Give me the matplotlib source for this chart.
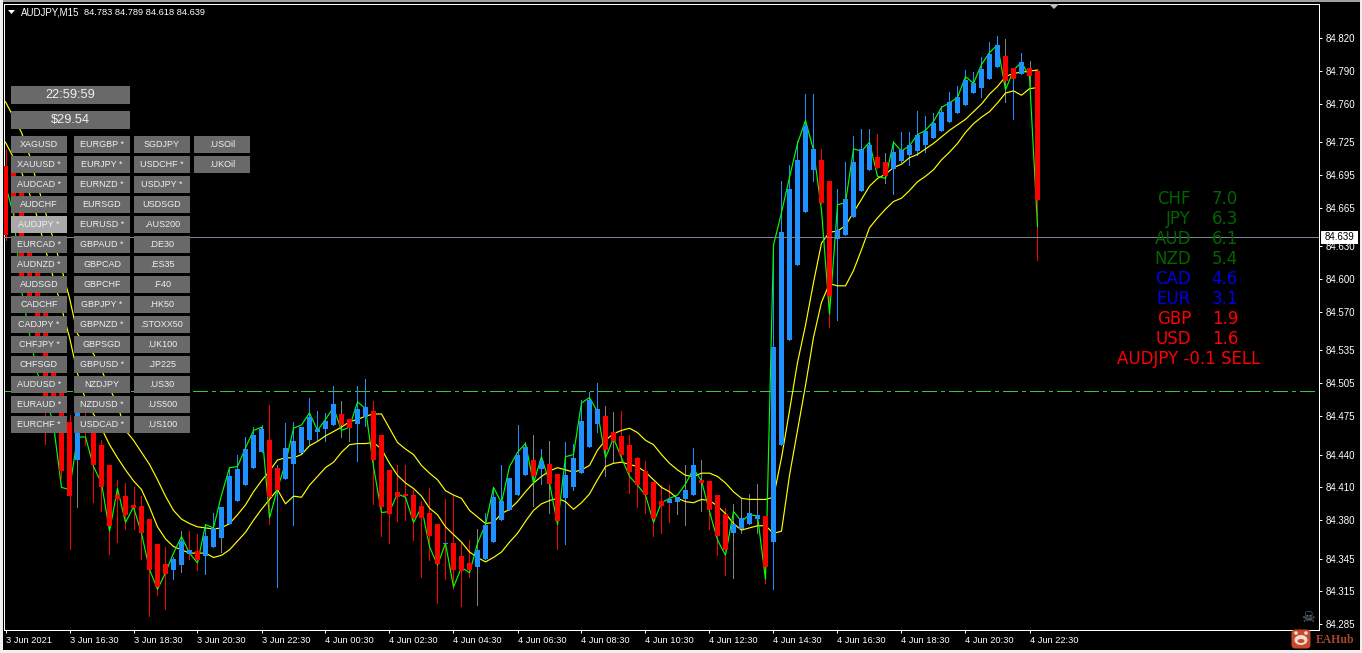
import numpy as np
from matplotlib import pyplot as plt
from matplotlib.patches import Rectangle, FancyBboxPatch, Polygon, Circle, Ellipse

# all prices are stored as points above 84.000 (1 point = 0.001)
open_pts = [703, 700, 682, 627, 607, 572, 517, 497, 470, 435,
            474, 462, 449, 430, 403, 402, 394, 393, 381, 358,
            340, 335, 339, 349, 352, 347, 356, 364, 377, 398,
            412, 428, 442, 453, 428, 418, 431, 441, 453, 461,
            463, 467, 477, 472, 468, 474, 480, 458, 426, 406,
            404, 403, 393, 387, 377, 358, 359, 347, 341, 337,
            345, 360, 380, 389, 403, 421, 435, 427, 431, 422,
            400, 410, 423, 447, 468, 475, 461, 457, 449, 437,
            425, 415, 398, 396, 397, 399, 403, 417, 416, 403,
            386, 368, 372, 377, 381, 384, 360, 449, 545, 613,
            661, 700, 709, 690, 637, 640, 657, 681, 700, 712,
            707, 701, 708, 713, 717, 723, 729, 735, 744, 752,
            759, 770, 775, 783, 794, 804, 793, 787, 793, 790]
close_pts = [640, 675, 603, 583, 548, 493, 490, 425, 402, 479,
             462, 430, 410, 375, 399, 385, 391, 368, 335, 319,
             331, 345, 361, 353, 344, 366, 373, 392, 420, 427,
             445, 458, 463, 401, 408, 446, 452, 465, 474, 463,
             471, 486, 467, 464, 482, 483, 435, 392, 386, 401,
             402, 382, 382, 366, 340, 359, 335, 334, 335, 353,
             376, 401, 398, 419, 440, 447, 420, 434, 413, 379,
             421, 437, 471, 490, 482, 444, 452, 440, 424, 412,
             403, 381, 393, 399, 401, 408, 430, 414, 389, 366,
             353, 377, 382, 387, 385, 337, 538, 643, 682, 709,
             740, 719, 670, 585, 645, 673, 707, 719, 723, 702,
             694, 716, 718, 723, 732, 735, 743, 753, 762, 766,
             782, 779, 792, 806, 814, 781, 783, 798, 786, 672]
high_pts = [718, 709, 691, 636, 616, 581, 526, 504, 476, 485,
            485, 470, 453, 430, 417, 414, 410, 402, 381, 358,
            356, 346, 370, 370, 367, 377, 387, 392, 428, 440,
            456, 465, 467, 485, 430, 469, 470, 465, 492, 480,
            478, 503, 489, 472, 503, 509, 489, 458, 426, 430,
            430, 408, 398, 409, 377, 399, 402, 359, 362, 372,
            387, 409, 430, 419, 467, 451, 458, 445, 452, 422,
            451, 450, 490, 497, 505, 484, 479, 480, 458, 438,
            434, 415, 412, 412, 401, 430, 446, 435, 416, 403,
            391, 395, 399, 404, 413, 384, 631, 690, 704, 726,
            769, 769, 719, 690, 682, 707, 731, 737, 737, 733,
            715, 726, 734, 734, 754, 749, 752, 758, 771, 776,
            791, 789, 803, 817, 822, 819, 793, 807, 799, 790]
low_pts = [636, 645, 595, 577, 540, 450, 481, 419, 354, 392,
           449, 397, 388, 349, 360, 372, 372, 345, 293, 312,
           299, 326, 333, 345, 335, 331, 356, 351, 377, 398,
           412, 428, 442, 377, 319, 418, 376, 441, 450, 453,
           452, 467, 456, 452, 434, 466, 395, 366, 359, 379,
           380, 362, 328, 344, 304, 326, 317, 302, 328, 303,
           345, 360, 380, 389, 403, 421, 393, 413, 387, 354,
           358, 408, 423, 447, 461, 420, 432, 434, 405, 392,
           387, 366, 368, 378, 386, 376, 403, 388, 372, 348,
           330, 327, 368, 377, 368, 323, 317, 449, 545, 613,
           661, 690, 670, 556, 563, 640, 657, 681, 700, 702,
           688, 678, 707, 704, 713, 716, 729, 735, 744, 752,
           759, 770, 766, 783, 794, 762, 746, 787, 776, 618]
fast_pts = [686, 659, 590, 550, 514, 495, 467, 410, 408, 456,
            456, 429, 414, 370, 409, 378, 392, 368, 335, 317,
            332, 350, 365, 350, 341, 376, 373, 403, 428, 429,
            446, 462, 465, 382, 409, 432, 464, 467, 478, 462,
            472, 483, 462, 465, 488, 482, 429, 387, 388, 404,
            401, 378, 392, 356, 339, 359, 319, 337, 332, 359,
            376, 410, 396, 429, 442, 450, 414, 438, 414, 376,
            438, 440, 487, 492, 479, 437, 455, 437, 420, 412,
            403, 378, 396, 400, 403, 413, 427, 416, 388, 362,
            348, 388, 379, 385, 384, 326, 631, 661, 693, 724,
            745, 718, 663, 568, 668, 670, 719, 717, 725, 694,
            692, 725, 717, 722, 732, 736, 744, 757, 761, 766,
            785, 779, 796, 807, 814, 773, 791, 798, 785, 648]
ma_high_pts = [762, 748, 734, 713, 686, 661, 636, 610, 583, 550,
               540, 532, 517, 501, 485, 462, 453, 442, 431, 417,
               402, 389, 381, 377, 374, 373, 372, 373, 377, 385,
               394, 406, 416, 425, 435, 437, 437, 440, 448, 452,
               457, 461, 465, 470, 472, 475, 477, 477, 464, 451,
               445, 440, 430, 423, 417, 407, 403, 400, 389, 383,
               377, 378, 386, 390, 397, 406, 414, 420, 425, 428,
               426, 424, 426, 430, 444, 453, 459, 462, 464, 460,
               453, 449, 440, 432, 426, 421, 420, 423, 423, 420,
               414, 406, 400, 399, 399, 399, 401, 437, 480, 524,
               558, 597, 633, 643, 644, 649, 661, 673, 685, 692,
               696, 702, 705, 711, 714, 719, 724, 730, 736, 741,
               746, 753, 760, 769, 776, 785, 788, 789, 790, 791]
ma_low_pts = [725, 711, 698, 678, 656, 627, 601, 574, 547, 514,
              490, 477, 464, 449, 437, 426, 416, 408, 392, 374,
              363, 356, 353, 350, 350, 350, 346, 348, 353, 361,
              369, 380, 390, 399, 408, 395, 402, 401, 412, 420,
              428, 433, 442, 449, 450, 450, 451, 445, 432, 421,
              414, 409, 402, 391, 385, 374, 367, 360, 351, 346,
              342, 346, 351, 360, 368, 379, 389, 395, 398, 400,
              397, 390, 396, 404, 417, 429, 432, 433, 431, 429,
              424, 417, 410, 406, 400, 397, 396, 399, 398, 393,
              386, 377, 371, 373, 375, 375, 368, 370, 421, 462,
              503, 547, 579, 596, 594, 594, 608, 627, 647, 656,
              664, 671, 674, 681, 689, 694, 700, 709, 716, 724,
              734, 742, 748, 753, 761, 770, 772, 768, 774, 775]

# wicks that are not drawn in the colour of their body
gray_wicks = [9, 22, 27, 42, 43, 59, 66, 68, 75, 76, 84, 85, 87, 91, 92, 93, 94, 110, 125, 128]
red_wicks = [23, 55, 83]
blue_wicks = [34, 126]

price_ticks = [84.820, 84.790, 84.760, 84.725, 84.695, 84.665, 84.630, 84.600, 84.570,
               84.535, 84.505, 84.475, 84.440, 84.410, 84.380, 84.345, 84.315, 84.285]
time_labels = ['3 Jun 2021', '3 Jun 16:30', '3 Jun 18:30', '3 Jun 20:30', '3 Jun 22:30',
               '4 Jun 00:30', '4 Jun 02:30', '4 Jun 04:30', '4 Jun 06:30', '4 Jun 08:30',
               '4 Jun 10:30', '4 Jun 12:30', '4 Jun 14:30', '4 Jun 16:30', '4 Jun 18:30',
               '4 Jun 20:30', '4 Jun 22:30']
last_price = 84.639
level_price = 84.498

button_rows = [['XAGUSD', 'EURGBP *', 'SGDJPY', '.USOil'],
               ['XAUUSD *', 'EURJPY *', 'USDCHF *', '.UKOil'],
               ['AUDCAD *', 'EURNZD *', 'USDJPY *'],
               ['AUDCHF', 'EURSGD', 'USDSGD'],
               ['AUDJPY *', 'EURUSD *', '.AUS200'],
               ['EURCAD *', 'GBPAUD *', '.DE30'],
               ['AUDNZD *', 'GBPCAD', '.ES35'],
               ['AUDSGD', 'GBPCHF', '.F40'],
               ['CADCHF', 'GBPJPY *', '.HK50'],
               ['CADJPY *', 'GBPNZD *', '.STOXX50'],
               ['CHFJPY *', 'GBPSGD', '.UK100'],
               ['CHFSGD', 'GBPUSD *', '.JP225'],
               ['AUDUSD *', 'NZDJPY', '.US30'],
               ['EURAUD *', 'NZDUSD *', '.US500'],
               ['EURCHF *', 'USDCAD *', '.US100']]
strength_names = ['CHF', 'JPY', 'AUD', 'NZD', 'CAD', 'EUR', 'GBP', 'USD']
strength_values = ['7.0', '6.3', '6.1', '5.4', '4.6', '3.1', '1.9', '1.6']

UI_FONT = 'Liberation Sans'
RED = '#ff0000'
BLUE = '#1e90ff'
GRAY = '#808080'
PX = 0.72  # one pixel at dpi 100
CURVE = 0.85


def to_price(pts):
    return 84 + np.array(pts) / 1000


W, H = 1362, 653
fig = plt.figure(figsize=(W / 100, H / 100), dpi=100, facecolor='black')
ax = fig.add_axes([4 / W, 1 - 630 / H, 1315 / W, 626 / H], facecolor='black')

o = to_price(open_pts)
c = to_price(close_pts)
hi = to_price(high_pts)
lo = to_price(low_pts)
x = np.arange(len(o))

body_colors = [BLUE if c[i] >= o[i] else RED for i in x]
wick_colors = list(body_colors)
for i in gray_wicks:
    wick_colors[i] = GRAY
for i in red_wicks:
    wick_colors[i] = RED
for i in blue_wicks:
    wick_colors[i] = BLUE

ax.vlines(x, lo, hi, colors=wick_colors, linewidth=PX, zorder=2, antialiased=False)
ax.plot(x, to_price(ma_high_pts), color='#ffff00', linewidth=CURVE, zorder=3)
ax.plot(x, to_price(ma_low_pts), color='#ffff00', linewidth=CURVE, zorder=3)
ax.plot(x, to_price(fast_pts), color='#00ff00', linewidth=CURVE, zorder=3)
ax.bar(x, np.abs(c - o), bottom=np.minimum(o, c), width=0.66, color=body_colors,
       linewidth=0, antialiased=False, zorder=4)

ax.axhline(last_price, color='#778899', linewidth=PX, zorder=5, antialiased=False)
ax.axhline(level_price, color='#32cd32', linewidth=PX, zorder=1, dashes=(14, 5, 4, 5), antialiased=False)

ax.set_xlim((4 - 5.5) / 8, (1319 - 5.5) / 8)
ax.set_ylim(84.2798, 84.8513)

ax.yaxis.tick_right()
ax.set_yticks(price_ticks)
ax.set_yticklabels(['%.3f' % p for p in price_ticks], fontname=UI_FONT, fontsize=7)
ax.set_xticks(np.arange(len(time_labels)) * 8)
ax.set_xticklabels(time_labels, fontname=UI_FONT, fontsize=6.7, ha='left')
ax.tick_params(colors='white', length=2.5, width=PX, pad=2)
for spine in ax.spines.values():
    spine.set_color('white')
    spine.set_linewidth(PX)

# overlay in pixel coordinates for the panels drawn on top of the chart
ui = fig.add_axes([0, 0, 1, 1], facecolor='none', zorder=10)
ui.set_xlim(0, W)
ui.set_ylim(H, 0)
ui.axis('off')

# window frame
ui.add_patch(Rectangle((0, 0), W, 2, color='#a0a0a0', linewidth=0))
ui.add_patch(Rectangle((0, 0), 3, H, color='#f0f0f0', linewidth=0))
ui.add_patch(Rectangle((0, 650), W, 3, color='#f0f0f0', linewidth=0))
ui.add_patch(Rectangle((1360, 0), 2, H, color='#f0f0f0', linewidth=0))

# header
ui.add_patch(Polygon([(8, 10), (15, 10), (11.5, 14)], color='white', linewidth=0))
ui.text(21, 12.5, 'AUDJPY,M15', color='white', fontname=UI_FONT, fontsize=7, va='center')
ui.text(84, 12.5, '84.783 84.789 84.618 84.639', color='white', fontname=UI_FONT, fontsize=6.7, va='center')
ui.add_patch(Polygon([(1049, 4), (1059, 4), (1054, 9)], color='#c0c0c0', linewidth=0))

# last price tag
ui.add_patch(Rectangle((1321, 231), 37, 12.5, color='white', linewidth=0))
ui.text(1325, 237.5, '%.3f' % last_price, color='black', fontname=UI_FONT, fontsize=7, va='center')

# clock and profit panels
for top, label in [(86, '22:59:59'), (111, '$29.54')]:
    ui.add_patch(Rectangle((11, top), 119, 18, color='#696969', linewidth=0))
    ui.text(70.5, top + 9, label, color='#f0f0f0', fontname=UI_FONT, fontsize=9.2, ha='center', va='center')

# symbol buttons
col_left = [11, 74, 134, 194]
for r, row in enumerate(button_rows):
    top = 136 + 20 * r
    for k, name in enumerate(row):
        face = '#a9a9a9' if name == 'AUDJPY *' else '#696969'
        ui.add_patch(Rectangle((col_left[k], top), 56, 17, color=face, linewidth=0))
        ui.text(col_left[k] + 28, top + 8.5, name, color='#f0f0f0', fontname=UI_FONT, fontsize=6.5,
                ha='center', va='center')

# currency strength table
for r, (name, val) in enumerate(zip(strength_names, strength_values)):
    if r < 4:
        col = '#006400'
    elif r < 6:
        col = '#0000e6'
    else:
        col = RED
    ui.text(1191, 199 + 20 * r, name, color=col, fontname='DejaVu Sans', fontsize=12, ha='right', va='center')
    ui.text(1238, 199 + 20 * r, val, color=col, fontname='DejaVu Sans', fontsize=12, ha='right', va='center')
ui.text(1117, 359, 'AUDJPY -0.1 SELL', color=RED, fontname='DejaVu Sans', fontsize=12, va='center')

# skull and watermark
ui.text(1308, 617, '\u2620', color='#6f8090', fontname='DejaVu Sans', fontsize=11, ha='center', va='center')
ui.add_patch(FancyBboxPatch((1293, 631), 16, 16, boxstyle='round,pad=1.5,rounding_size=4',
                            facecolor='#c8482c', edgecolor='none'))
ui.add_patch(Ellipse((1301, 640), 13, 10, color='#f2dcd2', linewidth=0))
ui.add_patch(Circle((1296, 633), 1.8, color='#f2dcd2', linewidth=0))
ui.add_patch(Circle((1306, 633), 1.8, color='#f2dcd2', linewidth=0))
ui.add_patch(Ellipse((1301, 641), 7, 4, color='#c8482c', linewidth=0))
ui.text(1316, 640, 'EAHub', color='#a8452f', fontname='Liberation Serif', fontweight='bold', fontsize=8.5, va='center')

plt.savefig('out.png', dpi=100, facecolor='black')
plt.close()
